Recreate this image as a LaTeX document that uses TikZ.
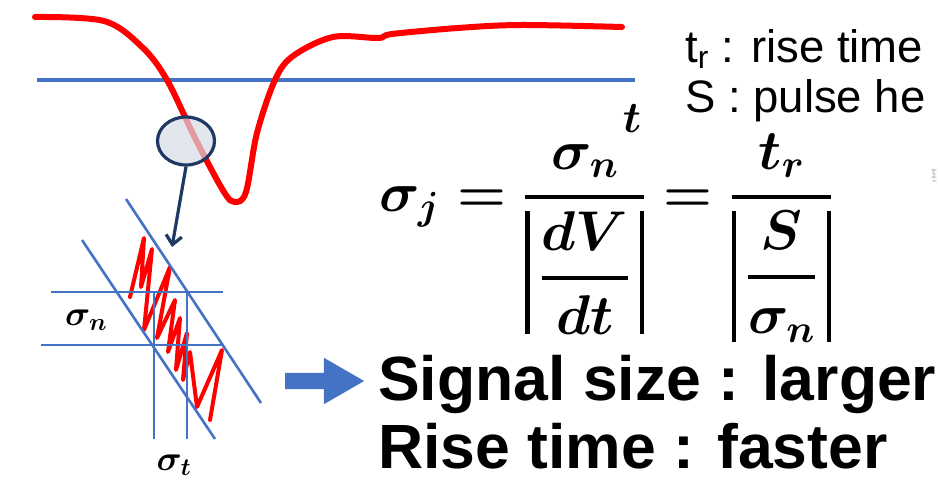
\documentclass[tikz,border=0pt]{standalone}
\usepackage{fix-cm}
\usepackage{amsmath}
\usepackage[no-math]{fontspec}
\setmainfont{Liberation Sans}
\usetikzlibrary{arrows.meta,positioning,shapes.geometric,shapes.arrows}
\definecolor{sigred}{RGB}{255,0,0}
\definecolor{lineblue}{RGB}{68,114,196}
\definecolor{navy}{RGB}{31,56,100}
\definecolor{lensgray}{RGB}{214,220,229}
\newcommand\thickfrac[2]{\genfrac{}{}{4pt}{0}{#1}{#2}}
\newcommand\absbar{\vrule width 4.5pt}

\begin{document}
\begin{tikzpicture}[x=1pt, y=-1pt,
    pulse/.style={draw=sigred, line width=6pt, line cap=round, line join=round},
    noise/.style={draw=sigred, line width=4pt, line cap=round, line join=round},
    guide/.style={draw=lineblue, line width=2.6pt},
    lens/.style={ellipse, draw=navy, line width=3.2pt, fill=lensgray, fill opacity=0.7, minimum width=57pt, minimum height=48pt},
    zoomarrow/.style={-{Straight Barb[length=9pt, width=16pt]}, draw=navy, line width=3.2pt},
    sym/.style={font=\fontsize{35}{35}\selectfont, inner sep=0pt},
    big/.style={font=\fontsize{62.5}{62.5}\selectfont\bfseries, anchor=base west, inner sep=0pt},
    note/.style={font=\fontsize{45.5}{45.5}\selectfont, anchor=base west, inner sep=0pt}
]
\useasboundingbox (0,0) rectangle (938,493);

% Pulse and threshold
\draw[guide, line width=3.2pt] (37,80) -- (635,80);
\draw[pulse] plot[smooth, tension=0.55] coordinates {(35,17) (104,21) (142,47) (167,80) (196,140) (224,192) (235,202) (246,192) (257,133) (275,80) (293,56) (333,37) (378,38) (392,34) (458,28) (521,25) (622,27)};
\node[sym, font=\fontsize{44}{44}\selectfont] (t) at (632,119) {$\boldsymbol{t}$};

% Zoom window
\node[lens] (lens) at (186,141) {};
\coordinate (tip) at (172,247);
\draw[zoomarrow] (lens.south) -- (tip);

% Noise band
\draw[noise] (130,297) -- (144,238) -- (141,287) -- (152,249) -- (144,330) -- (170,267)
  -- (157,338) -- (175,300) -- (168,352) -- (180,318) -- (176,370) -- (187,333) -- (183,380) -- (190,352)
  -- (197,407) -- (222,350) -- (210,420);
\draw[guide] (126,199) -- (261,403);
\draw[guide] (82,240) -- (215,439);
\draw[guide] (51,292) -- (223,292);
\draw[guide] (41,345) -- (223,345);
\draw[guide] (154,292) -- (154,439);
\draw[guide] (187,292) -- (187,439);
\node[sym] (sn) at (86,320) {$\boldsymbol{\sigma_n}$};
\node[sym] (st) at (174,465) {$\boldsymbol{\sigma_t}$};

% Result
\node[single arrow, fill=lineblue, minimum height=79pt, inner xsep=0pt, inner ysep=8pt,
      single arrow head extend=15pt, single arrow tip angle=60] (go) at (317.5,381) {};
\node[big] (sig) at (378,400) {Signal size : larger};
\node[big] (rise) at (378,468) {Rise time : faster};

% Jitter
\node[inner sep=0pt, font=\fontsize{56}{56}\selectfont] (jit) at (606,238)
  {$\displaystyle \boldsymbol{\sigma_j = \thickfrac{\sigma_n}{\absbar\,\thickfrac{dV}{dt}\,\absbar} = \thickfrac{t_r}{\absbar\,\thickfrac{S}{\sigma_n}\,\absbar}}$};
\node[note] (tr) at (685,62) {t\textsubscript{r} : rise time};
\node[note] (sh) at (685,112) {S : pulse he};
\node[font=\fontsize{5}{5}\selectfont, text=gray, rotate=90, inner sep=0pt] (ax) at (934,176) {y [um]};
\end{tikzpicture}
\end{document}
